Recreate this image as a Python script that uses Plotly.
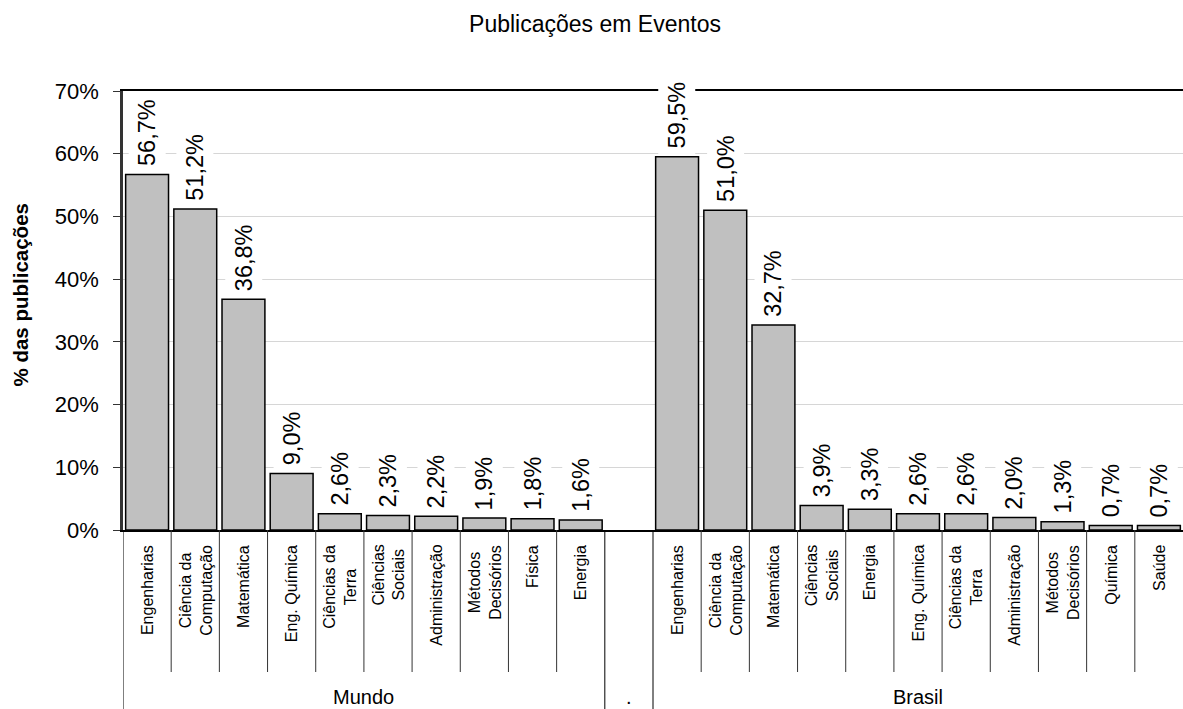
import plotly.graph_objects as go

# Publication share by research area, world vs. Brazil
mundo_cats = ["Engenharias", "Ciência da<br>Computação", "Matemática", "Eng. Química",
              "Ciências da<br>Terra", "Ciências<br>Sociais", "Administração",
              "Métodos<br>Decisórios", "Física", "Energia"]
mundo_vals = [56.7, 51.2, 36.8, 9.0, 2.6, 2.3, 2.2, 1.9, 1.8, 1.6]

brasil_cats = ["Engenharias", "Ciência da<br>Computação", "Matemática", "Ciências<br>Sociais",
               "Energia", "Eng. Química", "Ciências da<br>Terra", "Administração",
               "Métodos<br>Decisórios", "Química", "Saúde"]
brasil_vals = [59.5, 51.0, 32.7, 3.9, 3.3, 2.6, 2.6, 2.0, 1.3, 0.7, 0.7]

groups = ["Mundo", ".", "Brasil"]
y_ticks = [0, 10, 20, 30, 40, 50, 60, 70]

FONT = "Liberation Sans, Arial, sans-serif"

# one empty slot separates the two groups
cats = mundo_cats + [""] + brasil_cats
vals = mundo_vals + [None] + brasil_vals
xs = list(range(len(cats)))
group_spans = [(0, len(mundo_cats) - 1),
               (len(mundo_cats), len(mundo_cats)),
               (len(mundo_cats) + 1, len(cats) - 1)]

fig = go.Figure()
fig.add_trace(go.Bar(
    x=xs, y=vals,
    marker=dict(color="#c0c0c0", line=dict(color="#000000", width=1.5)),
    hoverinfo="skip",
))

annotations = []

# value labels above the bars
for x, v in zip(xs, vals):
    if v is None:
        continue
    annotations.append(dict(
        x=x, y=v, xref="x", yref="y",
        text=f"{v:.1f}%".replace(".", ","),
        textangle=-90, showarrow=False,
        xanchor="center", yanchor="bottom", yshift=2,
        bgcolor="white", borderpad=5,
        font=dict(family=FONT, size=23.5, color="#000000"),
    ))

# category labels under the axis
for x, c in zip(xs, cats):
    if not c:
        continue
    annotations.append(dict(
        x=x, y=0, xref="x", yref="paper",
        text=c, textangle=-90, showarrow=False, align="center",
        xanchor="center", yanchor="top", yshift=-13,
        font=dict(family=FONT, size=16, color="#000000"),
    ))

# group labels
for g, (a, b) in zip(groups, group_spans):
    annotations.append(dict(
        x=(a + b) / 2, y=0, xref="x", yref="paper",
        text=g, showarrow=False,
        xanchor="center", yanchor="middle", yshift=-167,
        font=dict(family=FONT, size=20, color="#000000"),
    ))

# y-axis title
annotations.append(dict(
    x=0, y=0.5, xref="paper", yref="paper",
    text="<b>% das publicações</b>", textangle=-90, showarrow=False,
    xanchor="center", yanchor="middle", xshift=-103, yshift=15,
    font=dict(family=FONT, size=20.5, color="#000000"),
))

# divider lines of the two-level category axis
shapes = []
group_edges = {a - 0.5 for a, _ in group_spans}
for k in range(len(cats)):
    edge = k - 0.5
    full = edge in group_edges
    shapes.append(dict(
        type="line", xref="x", yref="paper", ysizemode="pixel", yanchor=0,
        x0=edge, x1=edge, y0=0, y1=-179 if full else -142,
        line=dict(color="#000000" if full else "#333333", width=1),
    ))

fig.update_layout(
    width=1183, height=709,
    margin=dict(l=123, r=0, t=91, b=179, pad=0),
    paper_bgcolor="white", plot_bgcolor="white",
    showlegend=False,
    bargap=0.11,
    title=dict(text="Publicações em Eventos", x=595 / 1183, xanchor="center",
               y=1 - 24 / 709, yanchor="middle",
               font=dict(family=FONT, size=23, color="#000000")),
    xaxis=dict(range=[-0.5, len(cats) - 0.5], showticklabels=False, ticks="",
               showgrid=False, zeroline=False, showline=True, linecolor="#000000",
               linewidth=1.5, mirror=True, automargin=False, fixedrange=True),
    yaxis=dict(range=[0, 70], tickmode="array", tickvals=y_ticks,
               ticktext=[f"{t}%" for t in y_ticks],
               ticks="outside", ticklen=7, tickcolor="#333333", tickwidth=1,
               ticklabelstandoff=10,
               tickfont=dict(family=FONT, size=22, color="#000000"),
               showgrid=True, gridcolor="#d6d6d6", gridwidth=1,
               zeroline=False, showline=True, linecolor="#333333", linewidth=2.5,
               automargin=False, fixedrange=True),
    annotations=annotations,
    shapes=shapes,
)

fig.write_html("out.html")
